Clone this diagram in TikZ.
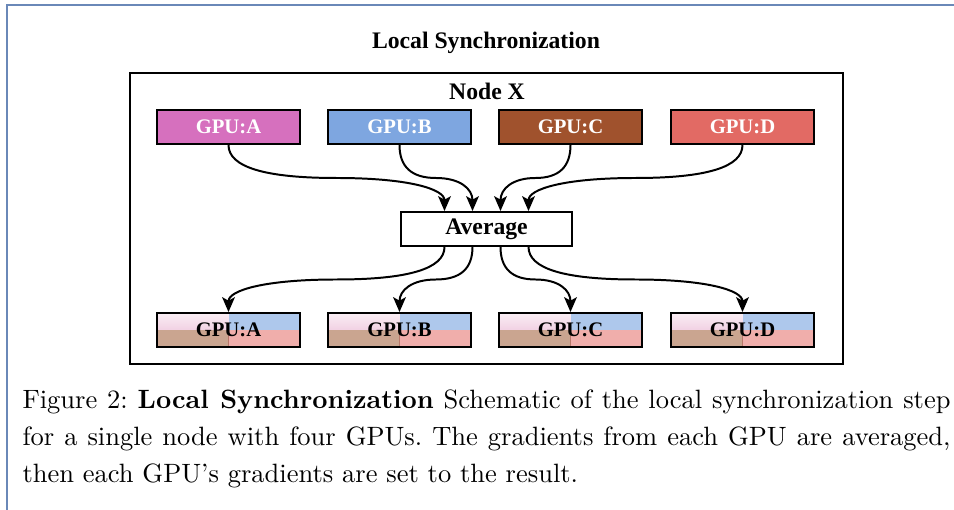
\documentclass[tikz,border=0pt]{standalone}
\usepackage{fontspec}
\newfontfamily\diafont{Liberation Serif}
\usetikzlibrary{arrows.meta,calc}

% one drawing unit = one pixel of the layout grid, y grows downwards
\def\px{0.3774pt}

\definecolor{frameblue}{HTML}{6A88B8}
\definecolor{gpuA}{HTML}{D670BE}
\definecolor{gpuB}{HTML}{7EA6E0}
\definecolor{gpuC}{HTML}{A0522D}
\definecolor{gpuD}{HTML}{E26A64}
\definecolor{mixPinkTop}{HTML}{FAEEF4}
\definecolor{mixPinkBot}{HTML}{E8B4D2}
\definecolor{mixBlue}{HTML}{AEC8EC}
\definecolor{mixTan}{HTML}{CAA590}
\definecolor{mixRed}{HTML}{F0AEAB}
\definecolor{mixEdge}{HTML}{B8786A}

% curved orthogonal connector: down, across at height #3, down again
\newcommand\curvedlink[3]{%
  \path (#1) coordinate (s) (#2) coordinate (t);
  \path (s |- 0,#3) coordinate (w1) (t |- 0,#3) coordinate (w2);
  \path ($(w1)!0.5!(w2)$) coordinate (m);
  \draw[conn] (s) .. controls ($(s)!2/3!(w1)$) and ($(m)!2/3!(w1)$) .. (m)
              .. controls ($(m)!2/3!(w2)$) and ($(t)!2/3!(w2)$) .. (t);
}

\begin{document}
\begin{tikzpicture}[x=\px, y=-\px,
  boxline/.style={draw=black, line width=0.72pt},
  gpubox/.style={boxline, minimum width=143*\px, minimum height=34*\px,
    inner sep=0pt, font=\diafont\bfseries\fontsize{7.8}{9}\selectfont},
  srcgpu/.style={gpubox, fill=#1, text=white},
  mixgpu/.style={gpubox, text=black,
    path picture={
      \shade[top color=mixPinkTop, bottom color=mixPinkBot]
        (path picture bounding box.north west) rectangle (path picture bounding box.center);
      \fill[mixBlue] (path picture bounding box.north east) rectangle (path picture bounding box.center);
      \fill[mixTan] (path picture bounding box.south west) rectangle (path picture bounding box.center);
      \fill[mixRed] (path picture bounding box.south east) rectangle (path picture bounding box.center);
      \draw[mixEdge, line width=0.3pt] (path picture bounding box.south) -- (path picture bounding box.center);
    }},
  heading/.style={inner sep=0pt, font=\diafont\bfseries\fontsize{8.94}{10}\selectfont},
  conn/.style={line width=0.75pt, line cap=round,
    -{Stealth[length=5.6pt, width=4.8pt, inset=1.3pt]}}
]
\useasboundingbox (0,0) rectangle (954,510);

% page frame (partly cut off)
\draw[frameblue, line width=0.65pt] (7.3,510) -- (7.3,5.3) -- (954,5.3);

% title and node container
\node[heading] (title) at (486,43) {Local Synchronization};
\node[boxline, minimum width=713*\px, minimum height=291*\px, inner sep=0pt] (nodex) at (486.5,218.5) {};
\node[heading] (nodexlabel) at (487,91) {Node X};

% GPUs before averaging
\node[srcgpu=gpuA] (gA) at (228.5,127) {GPU:A};
\node[srcgpu=gpuB] (gB) at (399.5,127) {GPU:B};
\node[srcgpu=gpuC] (gC) at (570.5,127) {GPU:C};
\node[srcgpu=gpuD] (gD) at (742.5,127) {GPU:D};

% averaging step
\node[boxline, heading, minimum width=171*\px, minimum height=34*\px] (avg) at (486.5,229) {Average};

% GPUs after averaging
\node[mixgpu] (rA) at (228.5,330) {GPU:A};
\node[mixgpu] (rB) at (399.5,330) {GPU:B};
\node[mixgpu] (rC) at (570.5,330) {GPU:C};
\node[mixgpu] (rD) at (742.5,330) {GPU:D};

% gradients in
\curvedlink{gA.south}{$(avg.north)+(-42,0)$}{178}
\curvedlink{gB.south}{$(avg.north)+(-14,0)$}{178}
\curvedlink{gC.south}{$(avg.north)+(14,0)$}{178}
\curvedlink{gD.south}{$(avg.north)+(42,0)$}{178}

% averaged gradients out
\curvedlink{$(avg.south)+(-42,0)$}{rA.north}{279.5}
\curvedlink{$(avg.south)+(-14,0)$}{rB.north}{279.5}
\curvedlink{$(avg.south)+(14,0)$}{rC.north}{279.5}
\curvedlink{$(avg.south)+(42,0)$}{rD.north}{279.5}

% caption
\node[anchor=base west, text width=928*\px, align=justify, inner sep=0pt,
      font=\fontsize{10}{13.85}\selectfont\frenchspacing] (caption) at (22,409)
  {Figure 2: \textbf{Local Synchronization} Schematic of the local synchronization step\linebreak
   for a single node with four GPUs. The gradients from each GPU are averaged,\linebreak
   then each GPU's gradients are set to the result.};
\end{tikzpicture}
\end{document}
